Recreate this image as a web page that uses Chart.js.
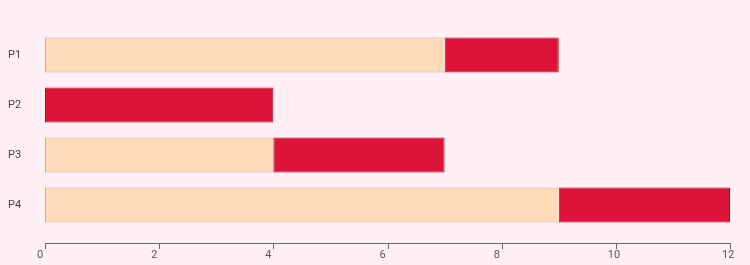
<!DOCTYPE html>
<html>
<head>
<meta charset="utf-8">
<script src="https://cdn.jsdelivr.net/npm/chart.js@4/dist/chart.umd.min.js"></script>
<style>
  html, body { margin: 0; padding: 0; background: #FFF0F5; }
  #wrap { width: 750px; height: 265px; }
</style>
</head>
<body>
<div id="wrap"><canvas id="gantt"></canvas></div>
<script>
// task rows and their timings
const tasks = ["P1", "P2", "P3", "P4"];
const startTimes = [7, 0, 4, 9];
const durations = [2, 4, 3, 3];
const xTicks = [0, 2, 4, 6, 8, 10, 12];

// draws the x axis line a bit below the plot, like the original
const axisLine = {
  id: "axisLine",
  afterDraw(chart) {
    const x = chart.scales.x;
    const ctx = chart.ctx;
    const y = chart.chartArea.bottom + 13;
    ctx.save();
    ctx.strokeStyle = "#666";
    ctx.lineWidth = 1;
    ctx.beginPath();
    ctx.moveTo(x.getPixelForValue(xTicks[0]), y + 0.5);
    ctx.lineTo(x.getPixelForValue(xTicks[xTicks.length - 1]), y + 0.5);
    xTicks.forEach(t => {
      const px = Math.round(x.getPixelForValue(t)) + 0.5;
      ctx.moveTo(px, y);
      ctx.lineTo(px, y + 6);
    });
    ctx.stroke();
    ctx.restore();
  }
};

new Chart(document.getElementById("gantt"), {
  type: "bar",
  data: {
    labels: tasks,
    datasets: [
      {
        label: "start",
        data: startTimes,
        backgroundColor: "#FFDAB9",
        borderColor: "#C8A894",
        borderWidth: 1,
        borderSkipped: "end",
        barPercentage: 0.7,
        categoryPercentage: 1
      },
      {
        label: "duration",
        data: durations,
        backgroundColor: "#DC143C",
        borderColor: "#BE0012",
        borderWidth: 1,
        borderSkipped: false,
        barPercentage: 0.7,
        categoryPercentage: 1
      }
    ]
  },
  options: {
    indexAxis: "y",
    responsive: true,
    maintainAspectRatio: false,
    animation: false,
    layout: { padding: { top: 30, right: 20, left: 8, bottom: 0 } },
    plugins: { legend: { display: false }, tooltip: { enabled: false } },
    scales: {
      x: {
        stacked: true,
        min: 0,
        max: 12,
        grid: { display: false, drawTicks: false },
        border: { display: false },
        afterFit: s => { s.height = 35; s.paddingRight = 0; s.paddingLeft = 0; },
        afterBuildTicks: s => { s.ticks = xTicks.map(v => ({ value: v })); },
        ticks: {
          align: "start",
          labelOffset: -8,
          padding: 19,
          color: "#555",
          font: { family: "Roboto", size: 11 }
        }
      },
      y: {
        stacked: true,
        grid: { display: false, drawTicks: false },
        border: { display: false },
        afterFit: s => { s.width = 37; },
        ticks: {
          crossAlign: "far",
          color: "#444",
          font: { family: "Roboto", size: 11 }
        }
      }
    }
  },
  plugins: [axisLine]
});
</script>
</body>
</html>
